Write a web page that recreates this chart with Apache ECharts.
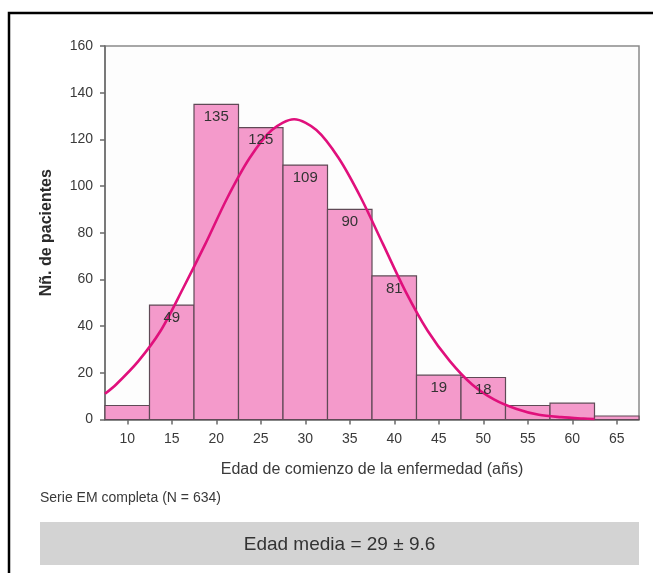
<!DOCTYPE html>
<html>
<head>
<meta charset="utf-8">
<script src="https://cdn.jsdelivr.net/npm/echarts@6/dist/echarts.min.js"></script>
<style>
html,body{margin:0;padding:0;background:#fff;}
#chart{width:653px;height:573px;}
</style>
</head>
<body>
<div id="chart"></div>
<script>
// Bin centres (years) and bar heights as drawn
var binCenters = [10, 15, 20, 25, 30, 35, 40, 45, 50, 55, 60, 65];
var barHeights = [6, 49, 135, 125, 109, 90, 61.5, 19, 18, 6, 7, 1.5];
// Printed value labels (empty where none is printed)
var barLabels = ['', '49', '135', '125', '109', '90', '81', '19', '18', '', '', ''];
// Fitted curve
var curveX = [7.5, 8.75, 11.25, 13.75, 16.25, 18.75, 21.25, 23.75, 26.25, 28.75, 31.25, 33.75, 36.25, 38.75, 41.25, 43.75, 46.25, 48.75, 51.25, 53.75, 56.25, 58.75, 61.25, 62.5];
var curveY = [11, 15, 25, 38, 56, 75, 95, 112, 124, 128.6, 124, 112, 95, 75, 55, 38, 25, 15, 8.5, 4.5, 2, 1, 0.4, 0.2];
var xTicks = [10, 15, 20, 25, 30, 35, 40, 45, 50, 55, 60, 65];
var binWidth = 5;
var xTitle = 'Edad de comienzo de la enfermedad (añs)';
var yTitle = 'Nñ. de pacientes';
var noteText = 'Serie EM completa (N = 634)';
var boxText = 'Edad media = 29 ± 9.6';

var FONT = '"Liberation Sans", Arial, Helvetica, sans-serif';
var TXT = '#3a3a3a';

var barData = binCenters.map(function (c, i) { return [c, barHeights[i], i]; });
var curveData = curveX.map(function (x, i) { return [x, curveY[i]]; });

var chart = echarts.init(document.getElementById('chart'), null, {renderer: 'canvas'});
chart.setOption({
  backgroundColor: '#ffffff',
  animation: false,
  grid: {left: 105, top: 46, right: 14, bottom: 153.5, show: true, borderColor: '#8a8a8a', borderWidth: 1.5, backgroundColor: '#fdfdfd'},
  xAxis: {
    type: 'value', min: 7.5, max: 67.5,
    name: xTitle, nameLocation: 'middle', nameGap: 42,
    nameTextStyle: {fontFamily: FONT, fontSize: 16, color: TXT},
    axisLine: {show: true, lineStyle: {color: '#6a6a6a', width: 1.5}},
    axisTick: {show: true, length: 5, inside: false, customValues: xTicks, lineStyle: {color: '#6a6a6a', width: 1.5}},
    axisLabel: {customValues: xTicks, fontFamily: FONT, fontSize: 14, color: TXT, margin: 13},
    splitLine: {show: false}
  },
  yAxis: {
    type: 'value', min: 0, max: 160, interval: 20,
    name: yTitle, nameLocation: 'middle', nameGap: 50, nameRotate: 90,
    nameTextStyle: {fontFamily: FONT, fontSize: 16, fontWeight: 'bold', color: '#2a2a2a'},
    axisLine: {show: true, lineStyle: {color: '#6a6a6a', width: 1.5}},
    axisTick: {show: true, length: 5, lineStyle: {color: '#6a6a6a', width: 1.5}},
    axisLabel: {fontFamily: FONT, fontSize: 14, color: TXT, margin: 12},
    splitLine: {show: false}
  },
  series: [
    {
      type: 'custom', z: 2,
      data: barData,
      encode: {x: 0, y: 1},
      renderItem: function (params, api) {
        var c = api.value(0), h = api.value(1);
        var p1 = api.coord([c - binWidth / 2, h]);
        var p2 = api.coord([c + binWidth / 2, 0]);
        return {
          type: 'rect',
          shape: {x: p1[0], y: p1[1], width: p2[0] - p1[0], height: p2[1] - p1[1]},
          style: {fill: '#f49acb', stroke: '#5f4a56', lineWidth: 1.2}
        };
      }
    },
    {
      type: 'line', z: 3,
      data: curveData,
      smooth: 0.3, showSymbol: false, symbol: 'none',
      lineStyle: {color: '#e0107c', width: 2.6}
    },
    {
      type: 'custom', z: 4,
      data: barData,
      encode: {x: 0, y: 1},
      renderItem: function (params, api) {
        var c = api.value(0), h = api.value(1), idx = api.value(2);
        var p = api.coord([c, h]);
        return {
          type: 'text',
          x: p[0], y: p[1] + 5,
          style: {text: barLabels[idx], fill: '#333333', font: '15px ' + FONT, align: 'center', verticalAlign: 'top'}
        };
      }
    }
  ],
  graphic: [
    {type: 'rect', z: 0, silent: true, shape: {x: 9, y: 13, width: 660, height: 590},
     style: {fill: 'none', stroke: '#000000', lineWidth: 2.5}},
    {type: 'text', left: 40, top: 491, style: {text: noteText, font: '14px ' + FONT, fill: TXT}},
    {type: 'rect', shape: {x: 40, y: 522, width: 599, height: 43}, style: {fill: '#d3d3d3'}},
    {type: 'text', x: 339.5, y: 545, style: {text: boxText, font: '19px ' + FONT, fill: '#333333', align: 'center', verticalAlign: 'middle'}}
  ]
});
</script>
</body>
</html>
